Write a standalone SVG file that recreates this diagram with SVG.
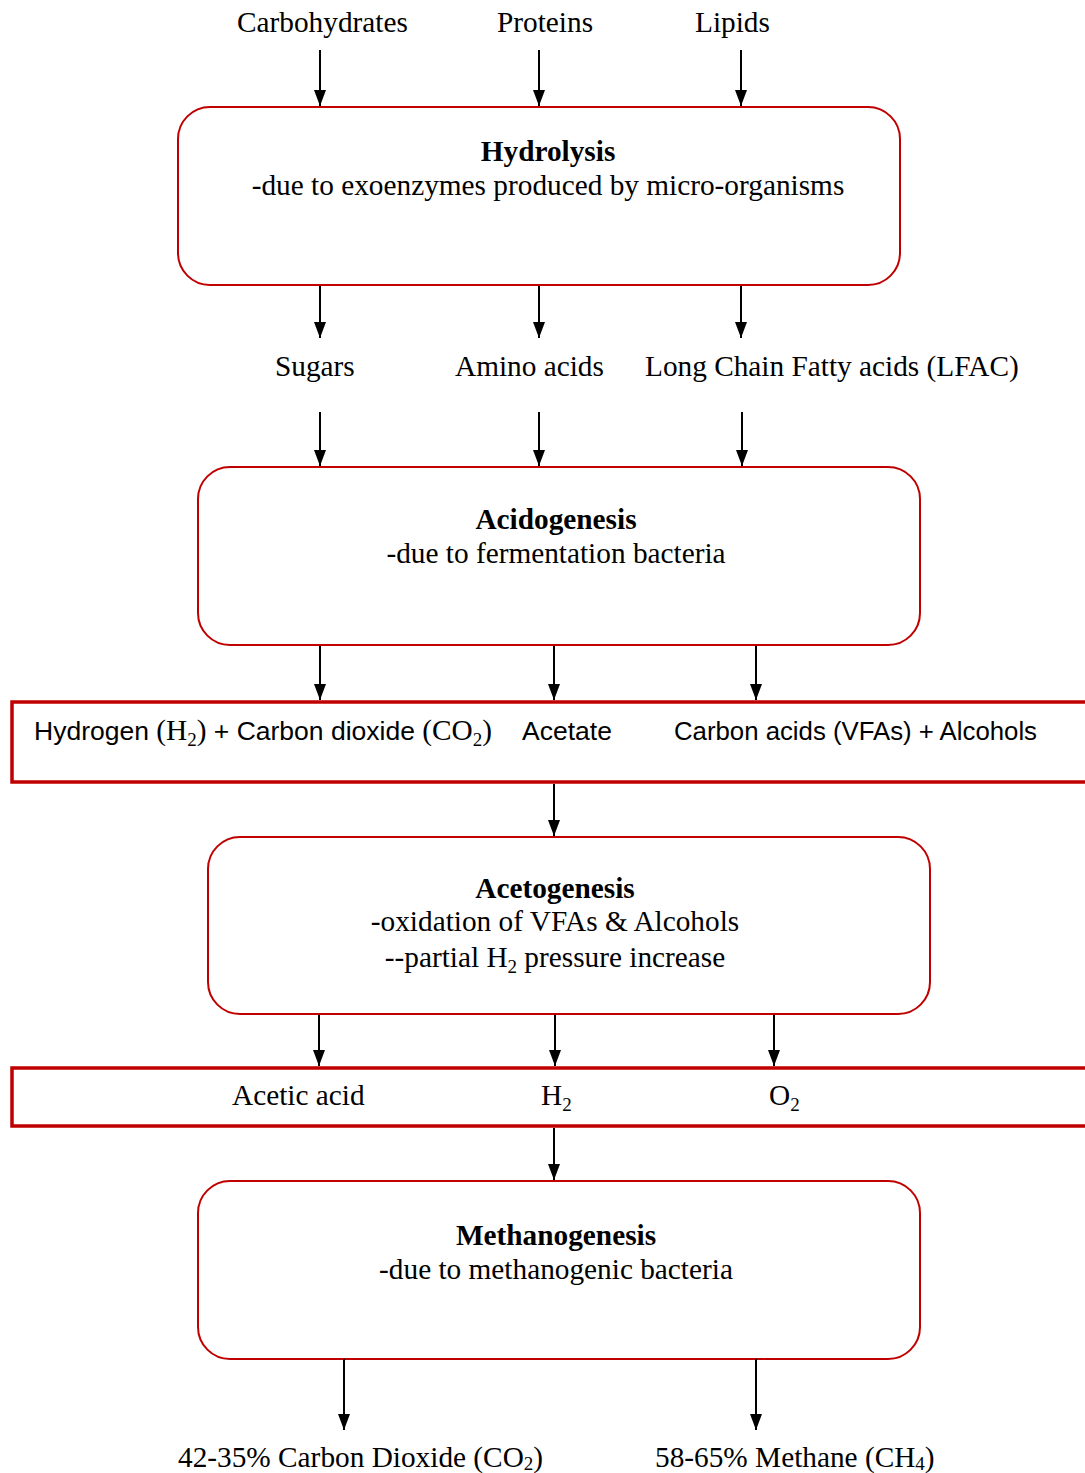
<svg xmlns="http://www.w3.org/2000/svg" width="1085" height="1473" viewBox="0 0 1085 1473">
  <style>
    .serif { font-family: "Liberation Serif", "Times New Roman", serif; font-size: 29.3px; fill: #000; }
    .sans { font-family: "Liberation Sans", Arial, sans-serif; font-size: 26.5px; fill: #000; }
    .bold { font-weight: bold; }
    .stage { fill: #fff; stroke: #c00000; stroke-width: 2; }
    .band { fill: #fff; stroke: #c00000; stroke-width: 3.5; }
    .arrow { stroke: #000; stroke-width: 2; fill: none; marker-end: url(#head); }
    .sub { font-size: 19px; }
  </style>
  <defs>
    <!-- solid triangular arrowhead; tip sits on the line end -->
    <marker id="head" markerWidth="16" markerHeight="12" refX="16" refY="6" orient="auto" markerUnits="userSpaceOnUse" viewBox="0 0 16 12">
      <path d="M0,0 L16,6 L0,12 Z" fill="#000"/>
    </marker>
  </defs>
  <rect width="1085" height="1473" fill="#fff"/>

  <!-- substrate labels -->
  <g id="inputs">
    <text class="serif" x="237" y="32">Carbohydrates</text>
    <text class="serif" x="497" y="32">Proteins</text>
    <text class="serif" x="695" y="32">Lipids</text>
  </g>

  <g id="hydrolysis">
    <rect class="stage" x="178" y="107" width="722" height="178" rx="32"/>
    <text class="serif bold" x="548" y="161" text-anchor="middle">Hydrolysis</text>
    <text class="serif" x="548" y="195" text-anchor="middle">-due to exoenzymes produced by micro-organisms</text>
  </g>

  <g id="monomers">
    <text class="serif" x="275" y="376">Sugars</text>
    <text class="serif" x="455" y="376">Amino acids</text>
    <text class="serif" x="645" y="376">Long Chain Fatty acids (LFAC)</text>
  </g>

  <g id="acidogenesis">
    <rect class="stage" x="198" y="467" width="722" height="178" rx="32"/>
    <text class="serif bold" x="556" y="529" text-anchor="middle">Acidogenesis</text>
    <text class="serif" x="556" y="563" text-anchor="middle">-due to fermentation bacteria</text>
  </g>

  <g id="acid-products">
    <rect class="band" x="12" y="702" width="1090" height="80"/>
    <text class="sans" x="34" y="740">Hydrogen <tspan class="serif">(H</tspan><tspan class="serif sub" dy="6">2</tspan><tspan class="serif" dy="-6">)</tspan> + Carbon dioxide <tspan class="serif">(CO</tspan><tspan class="serif sub" dy="6">2</tspan><tspan class="serif" dy="-6">)</tspan></text>
    <text class="sans" x="522" y="740">Acetate</text>
    <text class="sans" x="674" y="740" textLength="363" lengthAdjust="spacingAndGlyphs">Carbon acids (VFAs) + Alcohols</text>
  </g>

  <g id="acetogenesis">
    <rect class="stage" x="208" y="837" width="722" height="177" rx="32"/>
    <text class="serif bold" x="555" y="898" text-anchor="middle">Acetogenesis</text>
    <text class="serif" x="555" y="931" text-anchor="middle">-oxidation of VFAs &amp; Alcohols</text>
    <text class="serif" x="555" y="967" text-anchor="middle">--partial H<tspan class="sub" dy="6">2</tspan><tspan dy="-6"> pressure increase</tspan></text>
  </g>

  <g id="aceto-products">
    <rect class="band" x="12" y="1068" width="1090" height="58"/>
    <text class="serif" x="232" y="1105">Acetic acid</text>
    <text class="serif" x="541" y="1105">H<tspan class="sub" dy="6">2</tspan></text>
    <text class="serif" x="769" y="1105">O<tspan class="sub" dy="6">2</tspan></text>
  </g>

  <g id="methanogenesis">
    <rect class="stage" x="198" y="1181" width="722" height="178" rx="32"/>
    <text class="serif bold" x="556" y="1245" text-anchor="middle">Methanogenesis</text>
    <text class="serif" x="556" y="1279" text-anchor="middle">-due to methanogenic bacteria</text>
  </g>

  <g id="biogas">
    <text class="serif" x="178" y="1467">42-35% Carbon Dioxide (CO<tspan class="sub" dy="3">2</tspan><tspan dy="-3">)</tspan></text>
    <text class="serif" x="655" y="1467">58-65% Methane (CH<tspan class="sub" dy="3">4</tspan><tspan dy="-3">)</tspan></text>
  </g>

  <g id="connectors">
    <line class="arrow" x1="320" y1="50" x2="320" y2="106"/>
    <line class="arrow" x1="539" y1="50" x2="539" y2="106"/>
    <line class="arrow" x1="741" y1="50" x2="741" y2="106"/>

    <line class="arrow" x1="320" y1="286" x2="320" y2="338"/>
    <line class="arrow" x1="539" y1="286" x2="539" y2="338"/>
    <line class="arrow" x1="741" y1="286" x2="741" y2="338"/>

    <line class="arrow" x1="320" y1="412" x2="320" y2="466"/>
    <line class="arrow" x1="539" y1="412" x2="539" y2="466"/>
    <line class="arrow" x1="742" y1="412" x2="742" y2="466"/>

    <line class="arrow" x1="320" y1="646" x2="320" y2="700"/>
    <line class="arrow" x1="554" y1="646" x2="554" y2="700"/>
    <line class="arrow" x1="756" y1="646" x2="756" y2="700"/>

    <line class="arrow" x1="554" y1="784" x2="554" y2="836"/>

    <line class="arrow" x1="319" y1="1015" x2="319" y2="1066"/>
    <line class="arrow" x1="555" y1="1015" x2="555" y2="1066"/>
    <line class="arrow" x1="774" y1="1015" x2="774" y2="1066"/>

    <line class="arrow" x1="554" y1="1128" x2="554" y2="1180"/>

    <line class="arrow" x1="344" y1="1359" x2="344" y2="1430"/>
    <line class="arrow" x1="756" y1="1359" x2="756" y2="1430"/>
  </g>
</svg>
